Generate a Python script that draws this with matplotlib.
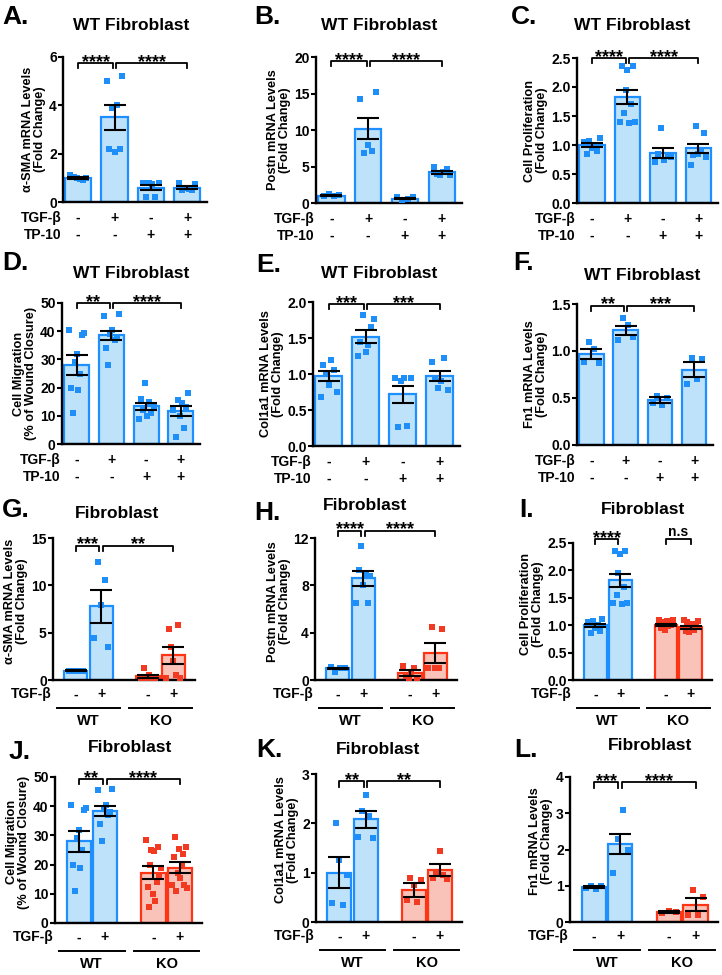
import numpy as np
import matplotlib
matplotlib.use('Agg')
import matplotlib.pyplot as plt
from matplotlib import transforms

plt.rcParams['font.family'] = ['Liberation Sans', 'DejaVu Sans']
plt.rcParams['font.weight'] = 'bold'
plt.rcParams['axes.labelweight'] = 'bold'

W, H = 722, 975

BLUE = '#1E8FFF'
BLUE_FILL = '#BEE2FA'
BLUE_DOT = '#1E8EF8'
RED = '#FF3414'
RED_FILL = '#F9C3B9'
RED_DOT = '#F23A22'

# treatment rows
tgf = ['-', '+', '-', '+']
tp10 = ['-', '-', '+', '+']
genotypes = ['WT', 'KO']

# ---- WT fibroblast panels (A-F) ----
a_mean = [1.0, 3.5, 0.6, 0.6]
a_sem = [0.05, 0.5, 0.1, 0.06]
a_pts = [[1.1, 1.05, 1.0, 0.95, 0.9, 1.0],
         [5.0, 2.2, 3.9, 2.05, 4.0, 2.2, 5.2],
         [0.8, 0.2, 0.8, 0.75, 0.2, 0.8],
         [0.8, 0.5, 0.6, 0.55, 0.5, 0.75]]

b_mean = [1.0, 10.2, 0.6, 4.2]
b_sem = [0.08, 1.5, 0.12, 0.25]
b_pts = [[1.0, 1.2, 0.9, 1.1],
         [14.2, 6.9, 8.0, 7.1, 15.2],
         [0.8, 0.4, 0.5, 0.8],
         [4.9, 4.0, 3.8, 4.2, 4.6, 3.9]]

c_mean = [1.0, 1.82, 0.86, 0.94]
c_sem = [0.03, 0.12, 0.09, 0.08]
c_pts = [[1.05, 0.85, 1.07, 0.95, 1.0, 0.9, 1.12],
         [1.40, 2.36, 1.55, 1.95, 2.30, 1.38, 1.70, 2.36, 1.40],
         [0.7, 0.85, 1.3, 0.75, 0.82, 0.8],
         [0.65, 0.82, 1.33, 0.85, 0.9, 1.2, 0.8]]

d_mean = [28.0, 38.5, 13.3, 11.6]
d_sem = [3.6, 1.7, 1.3, 1.7]
d_pts = [[40.5, 20.0, 11.0, 29.0, 32.0, 19.0, 25.0, 38.8, 39.5],
         [45.5, 34.0, 28.0, 39.0, 40.5, 37.0, 38.0, 46.0],
         [9.0, 16.0, 12.0, 21.5, 10.0, 15.0, 11.0, 13.0],
         [12.0, 2.5, 15.5, 10.0, 14.5, 5.5, 13.0, 18.0]]

e_mean = [0.97, 1.52, 0.72, 0.97]
e_sem = [0.07, 0.09, 0.12, 0.07]
e_pts = [[0.68, 1.13, 1.0, 0.85, 1.2, 1.05, 0.75],
         [1.25, 1.45, 1.82, 1.3, 1.4, 1.65, 1.77],
         [0.95, 0.27, 0.9, 0.95, 0.28, 0.95],
         [1.17, 0.95, 0.8, 0.9, 1.22, 0.78]]

f_mean = [0.97, 1.22, 0.48, 0.8]
f_sem = [0.05, 0.05, 0.03, 0.08]
f_pts = [[0.88, 1.1, 1.02, 0.87],
         [1.12, 1.35, 1.28, 1.15],
         [0.45, 0.52, 0.43, 0.5],
         [0.65, 0.93, 0.7, 0.92]]

# ---- WT vs KO panels (G-L) ----
g_mean = [1.0, 7.8, 0.4, 2.6]
g_sem = [0.03, 1.75, 0.15, 0.9]
g_pts = [[1.0, 1.0, 1.0, 1.0, 1.0],
         [4.4, 12.5, 7.9, 10.6, 3.5],
         [0.2, 1.3, 0.1, 0.5, 0.2, 0.1],
         [0.2, 5.4, 3.5, 2.0, 0.5, 5.8, 0.2]]

h_mean = [1.0, 8.6, 0.6, 2.3]
h_sem = [0.05, 0.65, 0.25, 0.85]
h_pts = [[1.1, 0.7, 1.0, 1.0],
         [6.5, 9.3, 11.3, 8.0, 9.0, 6.5, 8.8],
         [1.2, 0.3, 0.1, 0.6, 1.0, 0.2],
         [1.0, 4.5, 1.0, 1.0, 4.3]]

i_mean = [1.0, 1.82, 1.0, 0.96]
i_sem = [0.03, 0.12, 0.02, 0.03]
i_pts = [[1.05, 0.85, 1.07, 0.95, 1.0, 0.9, 1.12],
         [1.40, 2.36, 1.55, 1.95, 2.30, 1.38, 1.70, 2.36, 1.40],
         [1.1, 0.95, 1.05, 1.0, 0.92, 1.08, 0.98, 1.02, 1.0, 1.1],
         [1.1, 0.9, 1.05, 0.88, 0.95, 1.02, 0.92, 1.0, 1.08]]

j_mean = [28.0, 38.5, 17.2, 19.0]
j_sem = [3.6, 1.7, 2.2, 1.8]
j_pts = [[40.5, 20.0, 11.0, 29.0, 32.0, 19.0, 25.0, 38.8, 39.5],
         [45.5, 34.0, 28.0, 39.0, 40.5, 37.0, 38.0, 46.0],
         [28.5, 12.5, 5.5, 20.0, 25.0, 10.0, 24.5, 7.5, 14.0, 26.0, 16.0, 19.0],
         [13.0, 22.5, 29.5, 11.0, 17.0, 25.5, 15.5, 20.0, 23.5, 13.0, 26.0, 12.0]]

k_mean = [1.0, 2.08, 0.65, 1.05]
k_sem = [0.31, 0.17, 0.14, 0.12]
k_pts = [[0.38, 2.0, 1.25, 0.35, 0.95],
         [1.72, 2.25, 2.57, 2.15, 1.7],
         [0.45, 0.9, 0.75, 0.4, 0.85],
         [0.9, 1.0, 1.43, 0.95, 0.88]]

l_mean = [0.97, 2.15, 0.27, 0.48]
l_sem = [0.03, 0.28, 0.02, 0.17]
l_pts = [[0.95, 1.0, 0.9, 1.0],
         [1.35, 2.3, 3.1, 2.0],
         [0.25, 0.3, 0.28],
         [0.2, 0.87, 0.18, 0.7]]

fig = plt.figure(figsize=(W / 100, H / 100), dpi=100)


def panel(rect, means, sems, pts, kind, ylim, yticks, yfmt, ylabel, sigs, sig_y):
    l, t, r, b = rect
    ax = fig.add_axes([l / W, 1 - b / H, (r - l) / W, (b - t) / H])
    if kind == 'wt':
        pos = [0, 1, 2, 3]
        width = 0.72
        gap = 0.04
        cols = [(BLUE, BLUE_FILL, BLUE_DOT)] * 4
        ax.set_xlim(-0.42, 3.55)
    else:
        pos = [0, 1, 2.85, 3.85]
        width = 0.92
        gap = 0.07
        cols = [(BLUE, BLUE_FILL, BLUE_DOT)] * 2 + [(RED, RED_FILL, RED_DOT)] * 2
        ax.set_xlim(-0.9, 4.7)
    for i in range(4):
        edge, fill, dot = cols[i]
        ax.bar(pos[i], means[i], width, color=fill, edgecolor=edge, linewidth=1.6, zorder=2)
        n = len(pts[i])
        off = np.linspace(-0.3, 0.3, n) * width
        ax.scatter(pos[i] + off, pts[i], marker='s', s=19, color=dot, linewidths=0, zorder=3)
        ax.errorbar(pos[i], means[i], yerr=sems[i], color='black', capsize=8,
                    elinewidth=1.5, capthick=1.5, zorder=4)
    ax.set_ylim(*ylim)
    ax.set_yticks(yticks)
    ax.set_yticklabels([yfmt.format(v) for v in yticks])
    ax.set_xticks([])
    for s in ['top', 'right']:
        ax.spines[s].set_visible(False)
    for s in ['left', 'bottom']:
        ax.spines[s].set_linewidth(1.7)
    ax.tick_params(axis='y', length=3.5, width=1.5, pad=1, labelsize=10)
    ax.set_ylabel(ylabel, fontsize=9.2, labelpad=2, linespacing=1.0)
    ax.yaxis.label.set_y(0.5 if kind == 'wt' else 0.555)

    # significance brackets
    span = ylim[1] - ylim[0]
    for (i0, i1, txt) in sigs:
        x0 = pos[i0] + (gap if i0 == 1 else 0)
        x1 = pos[i1] - (gap if i1 == 1 else 0)
        d = span * 0.035
        ax.plot([x0, x0, x1, x1], [sig_y - d, sig_y, sig_y, sig_y - d], color='black',
                lw=1.3, clip_on=False, zorder=5)
        if '*' in txt:
            ax.annotate(txt, ((x0 + x1) / 2, sig_y), xytext=(0, -2.6), textcoords='offset points',
                        ha='center', va='baseline', fontsize=13, fontweight='bold',
                        annotation_clip=False)
        else:
            ax.annotate(txt, ((x0 + x1) / 2, sig_y), xytext=(0, 2), textcoords='offset points',
                        ha='center', va='baseline', fontsize=10, fontweight='bold',
                        annotation_clip=False)

    # treatment rows under the axis
    rows = [(tgf, 'TGF-\u03b2', 11.5 if kind == 'wt' else 10.4)]
    if kind == 'wt':
        rows.append((tp10, 'TP-10', 23.8))
    for signs, name, dy in rows:
        for x, sgn in zip(pos, signs):
            ax.annotate(sgn, (x, 0), xycoords=('data', 'axes fraction'), xytext=(0, -dy),
                        textcoords='offset points', ha='center', va='center',
                        fontsize=10, fontweight='bold', annotation_clip=False)
        ax.annotate(name, (0, 0), xycoords='axes fraction', xytext=(-1, -dy),
                    textcoords='offset points', ha='right', va='center',
                    fontsize=10, fontweight='bold', annotation_clip=False)
    if kind == 'ko':
        trans = transforms.offset_copy(ax.get_xaxis_transform(), fig=fig, y=-20.0, units='points')
        for k, g in enumerate(genotypes):
            c = (pos[2 * k] + pos[2 * k + 1]) / 2
            ax.plot([c - 1.25, c + 1.25], [0, 0], color='black', lw=1.4,
                    transform=trans, clip_on=False)
            ax.annotate(g, (c, 0), xycoords=('data', 'axes fraction'), xytext=(0, -29.5),
                        textcoords='offset points', ha='center', va='center',
                        fontsize=10.5, fontweight='bold', annotation_clip=False)
    return ax


mrna = '{} mRNA Levels\n(Fold Change)'
prolif = 'Cell Proliferation\n(Fold Change)'
migr = 'Cell Migration\n(% of Wound Closure)'
star4 = '****'

panel((63, 57, 207, 202), a_mean, a_sem, a_pts, 'wt', (0, 6), [0, 2, 4, 6], '{:g}',
      mrna.format('\u03b1-SMA'), [(0, 1, star4), (1, 3, star4)], 5.75)
panel((316, 57, 462, 203), b_mean, b_sem, b_pts, 'wt', (0, 20), [0, 5, 10, 15, 20], '{:g}',
      mrna.format('Postn'), [(0, 1, star4), (1, 3, star4)], 19.4)
panel((577, 58, 718, 203), c_mean, c_sem, c_pts, 'wt', (0, 2.5), [0, 0.5, 1, 1.5, 2, 2.5], '{:.1f}',
      prolif, [(0, 1, star4), (1, 3, star4)], 2.5)
panel((62, 303, 200, 444), d_mean, d_sem, d_pts, 'wt', (0, 50), [0, 10, 20, 30, 40, 50], '{:g}',
      migr, [(0, 1, '**'), (1, 3, star4)], 50)
panel((313, 302, 460, 446), e_mean, e_sem, e_pts, 'wt', (0, 2), [0, 0.5, 1, 1.5, 2], '{:.1f}',
      mrna.format('Col1a1'), [(0, 1, '***'), (1, 3, '***')], 1.97)
panel((577, 304, 713, 445), f_mean, f_sem, f_pts, 'wt', (0, 1.5), [0, 0.5, 1, 1.5], '{:.1f}',
      mrna.format('Fn1'), [(0, 1, '**'), (1, 3, '***')], 1.48)

panel((53, 538, 195, 680), g_mean, g_sem, g_pts, 'ko', (0, 15), [0, 5, 10, 15], '{:g}',
      mrna.format('\u03b1-SMA'), [(0, 1, '***'), (1, 3, '**')], 14.2)
panel((315, 538, 457, 680), h_mean, h_sem, h_pts, 'ko', (0, 12), [0, 4, 8, 12], '{:g}',
      mrna.format('Postn'), [(0, 1, star4), (1, 3, star4)], 12.6)
panel((573, 543, 712, 680), i_mean, i_sem, i_pts, 'ko', (0, 2.5), [0, 0.5, 1, 1.5, 2, 2.5], '{:.1f}',
      prolif, [(0, 1, star4), (2, 3, 'n.s')], 2.57)
panel((55, 777, 202, 923), j_mean, j_sem, j_pts, 'ko', (0, 50), [0, 10, 20, 30, 40, 50], '{:g}',
      migr, [(0, 1, '**'), (1, 3, star4)], 49.3)
panel((316, 774, 462, 922), k_mean, k_sem, k_pts, 'ko', (0, 3), [0, 1, 2, 3], '{:g}',
      mrna.format('Col1a1'), [(0, 1, '**'), (1, 3, '**')], 2.85)
panel((570, 777, 718, 922), l_mean, l_sem, l_pts, 'ko', (0, 4), [0, 1, 2, 3, 4], '{:g}',
      mrna.format('Fn1'), [(0, 1, '***'), (1, 3, star4)], 3.85)

# titles and panel letters (pixel positions)
titles = [('WT Fibroblast', 131, 25), ('WT Fibroblast', 379, 25), ('WT Fibroblast', 632, 25),
          ('WT Fibroblast', 131, 273), ('WT Fibroblast', 379, 273), ('WT Fibroblast', 642, 275),
          ('Fibroblast', 117, 513), ('Fibroblast', 365, 505), ('Fibroblast', 643, 510),
          ('Fibroblast', 130, 748), ('Fibroblast', 378, 750), ('Fibroblast', 650, 745)]
for txt, x, y in titles:
    fig.text(x / W, 1 - y / H, txt, ha='center', va='center', fontsize=12.5, fontweight='bold')

letters = [('A.', 2, 17), ('B.', 254, 17), ('C.', 511, 17),
           ('D.', 2, 263), ('E.', 256, 265), ('F.', 513, 263),
           ('G.', 2, 510), ('H.', 254, 513), ('I.', 519, 510),
           ('J.', 9, 752), ('K.', 256, 750), ('L.', 514, 750)]
for txt, x, y in letters:
    fig.text(x / W, 1 - y / H, txt, ha='left', va='center', fontsize=19, fontweight='bold')

fig.savefig('out.png', dpi=100)
